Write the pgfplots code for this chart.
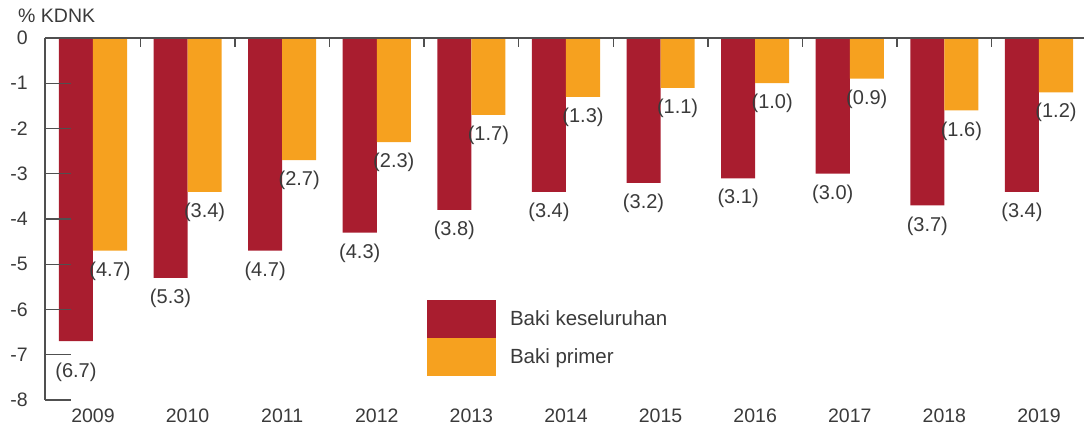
\documentclass[border=0pt]{standalone}
\usepackage{fontspec}
\setmainfont{Liberation Sans}
\usepackage{pgfplots}
\usepackage{pgfplotstable}
\pgfplotsset{compat=1.18}
\definecolor{cred}{HTML}{A91D2F}
\definecolor{corange}{HTML}{F6A11F}
\definecolor{ctext}{HTML}{3A3A3A}
\definecolor{caxis}{HTML}{505050}

\pgfplotstableread{
x y lab dy
0 -6.7 (6.7) -11
1 -5.3 (5.3) 0
2 -4.7 (4.7) 0
3 -4.3 (4.3) 0
4 -3.8 (3.8) 0
5 -3.4 (3.4) 0
6 -3.2 (3.2) 0
7 -3.1 (3.1) 0
8 -3.0 (3.0) 0
9 -3.7 (3.7) 0
10 -3.4 (3.4) 0
}\keseluruhan

\pgfplotstableread{
x y lab dy
0 -4.7 (4.7) 0
1 -3.4 (3.4) 0
2 -2.7 (2.7) 0
3 -2.3 (2.3) 0
4 -1.7 (1.7) 0
5 -1.3 (1.3) 0
6 -1.1 (1.1) 0
7 -1.0 (1.0) 0
8 -0.9 (0.9) 0
9 -1.6 (1.6) 0
10 -1.2 (1.2) 0
}\primer

\begin{document}
\begin{tikzpicture}
\begin{axis}[
  at={(0pt,0pt)}, anchor=south west,
  scale only axis, width=1039pt, height=362pt,
  xmin=-0.507, xmax=10.476, ymin=-8, ymax=0,
  axis lines=left,
  x axis line style={draw=none},
  y axis line style={-, draw=caxis, line width=1.6pt},
  xtick={0,1,2,3,4,5,6,7,8,9,10},
  xticklabels={2009,2010,2011,2012,2013,2014,2015,2016,2017,2018,2019},
  xtick style={draw=none},
  ytick={-8,-7,-6,-5,-4,-3,-2,-1,0},
  yticklabels={-8,-7,-6,-5,-4,-3,-2,-1,0},
  ytick style={draw=none},
  tick align=inside,
  major tick length=0pt,
  tick label style={font=\fontsize{19.5}{21}\selectfont, text=ctext},
  yticklabel style={inner sep=0pt, anchor=east, xshift=-17pt},
  xticklabel style={inner sep=0pt, anchor=north, yshift=-9pt},
  ybar, bar width=0.36,
  legend style={at={(0.3677,0.2762)}, anchor=north west, draw=none, fill=none,
     inner sep=0pt, outer sep=0pt, row sep=0pt,
     font=\fontsize{20.5}{22}\selectfont, text=ctext,
     nodes={inner sep=0pt},
     /tikz/every odd column/.append style={column sep=14pt}},
  legend cell align=left,
  clip=false,
]
\addplot[fill=cred, draw=none, bar shift=-0.18,
  nodes near coords,
  point meta=explicit symbolic,
  visualization depends on={\thisrow{dy}\as\dy},
  every node near coord/.append style={anchor=north, inner sep=0pt, yshift=-11pt,
     font=\fontsize{20}{22}\selectfont, text=ctext, yshift=\dy},
  legend image code/.code={\fill[cred] (0pt,-19pt) rectangle (69pt,19pt);}]
  table[x=x, y=y, meta=lab]{\keseluruhan};
\addlegendentry{Baki keseluruhan}
\addplot[fill=corange, draw=none, bar shift=0.18,
  nodes near coords,
  point meta=explicit symbolic,
  every node near coord/.append style={anchor=north, inner sep=0pt, yshift=-11pt,
     font=\fontsize{20}{22}\selectfont, text=ctext},
  legend image code/.code={\fill[corange] (0pt,-19pt) rectangle (69pt,19pt);}]
  table[x=x, y=y, meta=lab]{\primer};
\addlegendentry{Baki primer}
\draw[caxis, line width=1.8pt] (rel axis cs:0,1) -- (rel axis cs:1,1);
\pgfplotsinvokeforeach{0.5,1.5,...,9.5}{
  \draw[caxis, line width=1.4pt] (axis cs:#1,0) -- ([yshift=-9pt]axis cs:#1,0);
}
\pgfplotsinvokeforeach{-8,-7,...,-1}{
  \draw[caxis, line width=1.4pt] (axis cs:-0.507,#1) -- ([xshift=26pt]axis cs:-0.507,#1);
}
\node[anchor=west, inner sep=0pt, font=\fontsize{19.5}{21}\selectfont, text=ctext]
  at (rel axis cs:0,1) [xshift=-27pt, yshift=22pt] {\% KDNK};
\end{axis}
\pgfresetboundingbox
\path (-45pt,-33pt) rectangle (1039pt,400pt);
\end{tikzpicture}
\end{document}
